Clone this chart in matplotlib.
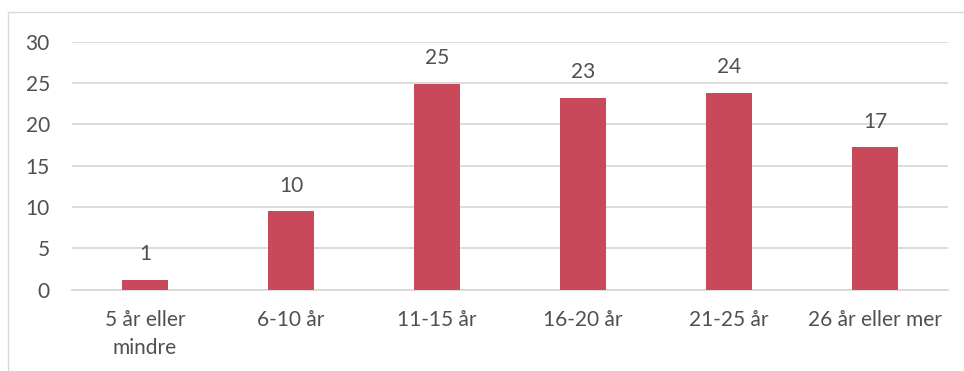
import matplotlib
matplotlib.use("Agg")
import matplotlib.pyplot as plt
from matplotlib.patches import Rectangle

categories = ["5 år eller\nmindre", "6-10 år", "11-15 år", "16-20 år", "21-25 år", "26 år eller mer"]
values = [1.2, 9.5, 24.9, 23.2, 23.8, 17.2]
yticks = [0, 5, 10, 15, 20, 25, 30]

bar_color = "#C84A5A"
text_color = "#505050"
grid_color = "#D9D9D9"

plt.rcParams["font.family"] = ["Lato", "DejaVu Sans"]

W, H, DPI = 964, 371, 100
fig = plt.figure(figsize=(W / DPI, H / DPI), dpi=DPI)
fig.patch.set_facecolor("white")

# outer chart frame
fig.patches.append(Rectangle((8 / W, -0.2), 2.0, 1.2 - 12 / H,
                             transform=fig.transFigure, fill=False,
                             edgecolor=grid_color, linewidth=1.0))

left, right = 72 / W, 948 / W
bottom, top = 1 - 289.5 / H, 1 - 41.5 / H
ax = fig.add_axes([left, bottom, right - left, top - bottom])

x = list(range(len(categories)))
bars = ax.bar(x, values, width=0.315, color=bar_color, zorder=3)
ax.set_xlim(-0.5, len(categories) - 0.5)
ax.set_ylim(0, 30)
ax.set_yticks(yticks)
ax.set_yticklabels([str(t) for t in yticks])
ax.set_xticks(x)
ax.set_xticklabels(categories, linespacing=1.45, va="top")

ax.yaxis.grid(True, color=grid_color, linewidth=1.3, zorder=0)
ax.set_axisbelow(True)
for s in ["top", "right", "left"]:
    ax.spines[s].set_visible(False)
ax.spines["bottom"].set_color(grid_color)
ax.spines["bottom"].set_linewidth(1.3)

ax.tick_params(axis="both", length=0, colors=text_color, labelsize=15)
ax.tick_params(axis="y", pad=16)
ax.tick_params(axis="x", pad=15)

for rect, v in zip(bars, values):
    ax.annotate(f"{v:.0f}", (rect.get_x() + rect.get_width() / 2, v),
                xytext=(0, 11), textcoords="offset points",
                ha="center", va="bottom", fontsize=15, color=text_color)

fig.savefig("out.png", dpi=DPI)
